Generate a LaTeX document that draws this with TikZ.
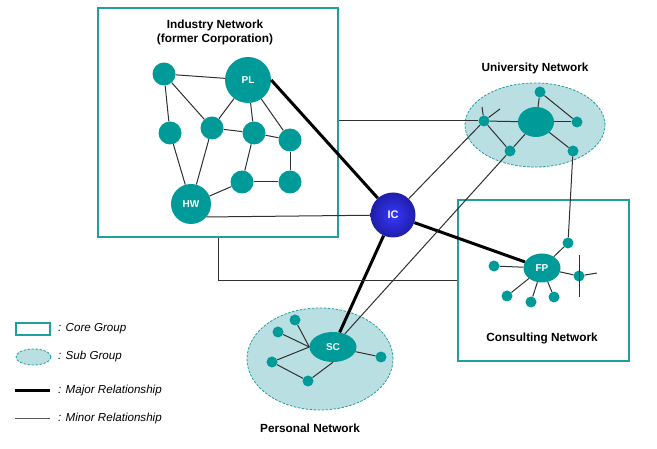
\documentclass[tikz,border=0pt]{standalone}
\usepackage{fontspec}
\setmainfont{Liberation Sans}
\usetikzlibrary{shapes.geometric}
\definecolor{tealnode}{HTML}{009B98}
\definecolor{tealbox}{HTML}{1FA09C}
\definecolor{subfill}{HTML}{B9DFE3}
\definecolor{linec}{HTML}{303030}
\definecolor{icblue}{HTML}{3838FF}
\definecolor{icdark}{HTML}{1E1EA8}
\begin{document}
\begin{tikzpicture}[x=1pt,y=-1pt,
  mem/.style={circle,fill=tealnode,inner sep=0pt,minimum size=23pt},
  bigmem/.style={circle,fill=tealnode,inner sep=0pt,text=white,font=\bfseries\fontsize{10}{12}\selectfont},
  small/.style={circle,fill=tealnode,inner sep=0pt,minimum size=11pt},
  hub/.style={ellipse,fill=tealnode,inner sep=0pt,text=white,font=\bfseries\fontsize{10}{12}\selectfont},
  core/.style={rectangle,draw=tealbox,line width=2.5pt,inner sep=0pt},
  sub/.style={ellipse,draw=tealbox,dash pattern=on 2.5pt off 1.5pt,fill=subfill,line width=0.8pt,inner sep=0pt},
  minor/.style={draw=linec,line width=1pt},
  major/.style={draw=black,line width=3pt},
  title/.style={font=\bfseries\fontsize{11.8}{14}\selectfont,align=center},
  legtext/.style={font=\itshape\fontsize{11.6}{13}\selectfont,anchor=west,inner sep=0pt}
]
\useasboundingbox (0,0) rectangle (657,449);

% groups
\node[core,minimum width=240pt,minimum height=229pt] (ind) at (218,122.5) {};
\node[core,minimum width=171pt,minimum height=161pt] (cons) at (543.5,280.5) {};
\node[sub,minimum width=140pt,minimum height=84pt] (uni) at (535,125) {};
\node[sub,minimum width=146pt,minimum height=102pt] (pers) at (320,359) {};

% titles
\node[title] (tind) at (215,32) {Industry Network\\(former Corporation)};
\node[title] (tuni) at (535,68) {University Network};
\node[title] (tcons) at (542,338) {Consulting Network};
\node[title] (tpers) at (310,428) {Personal Network};

% industry network
\node[mem] (n1) at (164,74) {};
\node[bigmem,minimum size=46pt] (PL) at (248,80) {PL};
\node[mem] (n3) at (170,133) {};
\node[mem] (n4) at (212,128) {};
\node[mem] (n5) at (254,133) {};
\node[mem] (n6) at (290,140) {};
\node[mem] (n7) at (242,182) {};
\node[mem] (n8) at (290,182) {};
\node[bigmem,minimum size=40pt] (HW) at (191,204) {HW};

% university network
\node[hub,minimum width=36pt,minimum height=30pt] (uc) at (536,122) {};
\node[small] (ut) at (540,92) {};
\node[small] (ur) at (577,122) {};
\node[small] (ubr) at (573,151) {};
\node[small] (ubl) at (510,151) {};
\node[small] (ul) at (484,121) {};
\coordinate (uls1) at (482,107);
\coordinate (uls2) at (500,109);

% consulting network
\node[hub,minimum width=37pt,minimum height=29pt] (FP) at (542,268) {FP};
\node[small] (ctop) at (568,243) {};
\node[small] (cl) at (494,266) {};
\node[small] (cr) at (579,276) {};
\node[small] (cb1) at (507,296) {};
\node[small] (cb2) at (531,302) {};
\node[small] (cb3) at (554,297) {};
\coordinate (crs1) at (579,255);
\coordinate (crs2) at (579,297);
\coordinate (crs3) at (597,273);

% personal network
\node[hub,minimum width=47pt,minimum height=30pt] (SC) at (333,347) {SC};
\node[small] (p1) at (295,320) {};
\node[small] (p2) at (278,332) {};
\node[small] (p3) at (272,362) {};
\node[small] (p4) at (308,381) {};
\node[small] (p5) at (381,357) {};

% IC
\node[circle,minimum size=45pt,inner sep=0pt,shading=radial,inner color=icblue,outer color=icdark,text=white,font=\bfseries\fontsize{11}{13}\selectfont] (IC) at (393,215) {IC};

% industry edges
\draw[minor] (n1) -- (PL);
\draw[minor] (n1) -- (n3);
\draw[minor] (n1) -- (n4);
\draw[minor] (PL) -- (n4);
\draw[minor] (PL) -- (n5);
\draw[minor] (PL) -- (n6);
\draw[minor] (n4) -- (n5);
\draw[minor] (n5) -- (n6);
\draw[minor] (n3) -- (HW);
\draw[minor] (n4) -- (HW);
\draw[minor] (n5) -- (n7);
\draw[minor] (n7) -- (n8);
\draw[minor] (n6) -- (n8);
\draw[minor] (n7) -- (HW);

% university edges
\draw[minor] (ut) -- (uc);
\draw[minor] (ut) -- (ur);
\draw[minor] (uc) -- (ur);
\draw[minor] (uc) -- (ubr);
\draw[minor] (uc) -- (ubl);
\draw[minor] (uc) -- (ul);
\draw[minor] (ul) -- (ubl);
\draw[minor] (ul) -- (uls1);
\draw[minor] (ul) -- (uls2);

% consulting edges
\draw[minor] (FP) -- (ctop);
\draw[minor] (FP) -- (cl);
\draw[minor] (FP) -- (cr);
\draw[minor] (FP) -- (cb1);
\draw[minor] (FP) -- (cb2);
\draw[minor] (FP) -- (cb3);
\draw[minor] (crs1) -- (crs2);
\draw[minor] (cr) -- (crs3);

% personal edges
\draw[minor] (SC.west) -- (p1);
\draw[minor] (SC.west) -- (p2);
\draw[minor] (SC.west) -- (p3);
\draw[minor] (p3) -- (p4);
\draw[minor] (SC.south) -- (p4);
\draw[minor] (SC) -- (p5);

% inter-group relationships
\draw[major] (PL.east) -- (IC);
\draw[major] (IC) -- (FP);
\draw[major] (IC) -- (SC);
\draw[minor] (HW.-40) -- (IC);
\draw[minor] (IC) -- (ul);
\draw[minor] (ind.east |- ul) -- (ul);
\draw[minor] (ind.south) |- (cons.west);
\draw[minor] (ubl) -- (SC);
\draw[minor] (ctop) -- (ubr);

% legend
\node[core,minimum width=34pt,minimum height=12pt] (lcore) at (33,329) {};
\node[sub,minimum width=35pt,minimum height=16pt] (lsub) at (33.5,357) {};
\coordinate (lma1) at (15,391);
\coordinate (lma2) at (50,391);
\coordinate (lmi1) at (15,419);
\coordinate (lmi2) at (50,419);
\draw[major] (lma1) -- (lma2);
\draw[draw=linec!80,line width=1pt] (lmi1) -- (lmi2);
\node[legtext] (t1) at (58,329) {: Core Group};
\node[legtext] (t2) at (58,357) {: Sub Group};
\node[legtext] (t3) at (58,391) {: Major Relationship};
\node[legtext] (t4) at (58,419) {: Minor Relationship};
\end{tikzpicture}
\end{document}
